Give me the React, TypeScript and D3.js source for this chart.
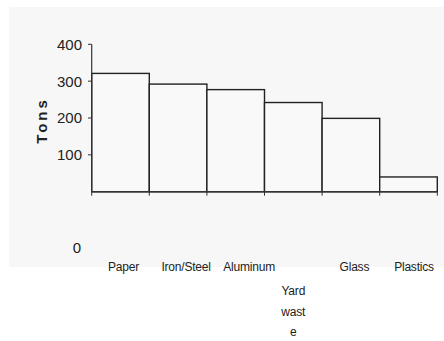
import React from "react";
import * as d3 from "d3";

const categories = ["Paper", "Iron/Steel", "Aluminum", "Yard waste", "Glass", "Plastics"];
const tons = [321, 292, 277, 242, 199, 40];
const yTicks = [100, 200, 300, 400];

// label layout (wrapped lines, row offsets & nudges), not data
const labelLines: string[][] = [["Paper"], ["Iron/Steel"], ["Aluminum"], ["Yard", "wast", "e"], ["Glass"], ["Plastics"]];
const labelNudge = [3, 8, 13.5, 0, 3.5, 5.5];
const labelRow = [0, 0, 0, 1, 0, 0];

export default function App() {
  const W = 444, H = 341;
  const x = d3.scaleBand<string>().domain(categories).range([91.7, 437.3]).padding(0);
  const y = d3.scaleLinear().domain([0, 400]).range([191.7, 44.3]);
  const font = "'Liberation Sans', Arial, sans-serif";
  const y0 = y(0);
  const lineH = 20.5;
  return (
    <svg width={W} height={H} style={{ position: "absolute", left: 0, top: 0 }}>
      <rect x={0} y={0} width={W} height={H} fill="#ffffff" />
      <rect x={9} y={7} width={W - 9} height={260} fill="#f7f7f7" />
      {categories.map((c, i) => (
        <rect
          key={c}
          x={x(c)!}
          y={y(tons[i])}
          width={x.bandwidth()}
          height={y0 - y(tons[i])}
          fill="#f9f9f9"
          stroke="#222"
          strokeWidth={1.4}
        />
      ))}
      <line x1={91.7} x2={91.7} y1={y(400)} y2={y0} stroke="#333" strokeWidth={1.2} />
      <line x1={91.7} x2={437.3} y1={y0} y2={y0} stroke="#333" strokeWidth={1.4} />
      {yTicks.map((t) => (
        <g key={t}>
          <line x1={88} x2={91.7} y1={y(t)} y2={y(t)} stroke="#333" strokeWidth={1} />
          <text x={82} y={y(t)} dy="0.36em" textAnchor="end" fontFamily={font} fontSize={15} fill="#222">
            {t}
          </text>
        </g>
      ))}
      {categories.map((c) => (
        <line key={c} x1={x(c)!} x2={x(c)!} y1={y0} y2={y0 + 4} stroke="#333" strokeWidth={1} />
      ))}
      <line x1={437.3} x2={437.3} y1={y0} y2={y0 + 4} stroke="#333" strokeWidth={1} />
      <text x={77} y={248} dy="0.36em" textAnchor="middle" fontFamily={font} fontSize={15} fill="#222">
        0
      </text>
      <text
        transform={`translate(47,120.5) rotate(-90)`}
        textAnchor="middle"
        fontFamily={font}
        fontSize={15}
        fontWeight="bold"
        letterSpacing={3}
        fill="#222"
      >
        Tons
      </text>
      {categories.map((c, i) => {
        const cx = x(c)! + x.bandwidth() / 2 + labelNudge[i];
        return (
          <text
            key={c}
            x={cx}
            y={271 + labelRow[i] * 24}
            textAnchor="middle"
            fontFamily={font}
            fontSize={12}
            letterSpacing={-0.2}
            fill="#222"
          >
            {labelLines[i].map((l, j) => (
              <tspan key={j} x={cx} dy={j === 0 ? 0 : lineH}>
                {l}
              </tspan>
            ))}
          </text>
        );
      })}
    </svg>
  );
}
